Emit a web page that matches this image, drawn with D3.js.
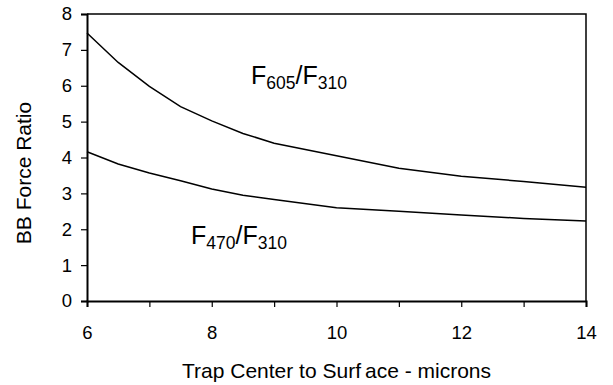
<!DOCTYPE html>
<html>
<head>
<meta charset="utf-8">
<script src="https://cdn.jsdelivr.net/npm/d3@7"></script>
<style>
  body { margin: 0; background: #fff; }
  text { font-family: Arial, "Liberation Sans", sans-serif; fill: #000; }
</style>
</head>
<body>
<div id="chart"></div>
<script>
// distance trap center to surface (microns)
let xs = [6, 6.5, 7, 7.5, 8, 8.5, 9, 10, 11, 12, 13, 14]
// F605/F310 ratio
let ratio605 = [7.47, 6.65, 5.98, 5.42, 5.02, 4.67, 4.40, 4.05, 3.70, 3.48, 3.33, 3.17]
// F470/F310 ratio
let ratio470 = [4.16, 3.82, 3.57, 3.35, 3.12, 2.95, 2.83, 2.60, 2.50, 2.40, 2.30, 2.23]
let xTicks = [6, 7, 8, 9, 10, 11, 12, 13, 14]
let xLabels = [6, 8, 10, 12, 14]
let yTicks = [0, 1, 2, 3, 4, 5, 6, 7, 8]

;(function () {
    let w = 613
    let h = 385
    let left = 87, right = 586, top = 14, bottom = 301

    let svg = d3.select("#chart")
        .append("svg")
        .attr("width", w)
        .attr("height", h)

    let x = d3.scaleLinear().domain([6, 14]).range([left, right])
    let y = d3.scaleLinear().domain([0, 8]).range([bottom, top])

    // plot frame (top and right)
    svg.append("path")
        .attr("d", `M${left},${top}H${right}V${bottom}`)
        .attr("fill", "none")
        .attr("stroke", "#000")
        .attr("stroke-width", 1.5)

    // x axis
    let xAxis = d3.axisBottom(x)
        .tickValues(xTicks)
        .tickSize(6)
        .tickFormat(d => xLabels.includes(d) ? d : "")
    let gx = svg.append("g")
        .attr("transform", "translate(0," + bottom + ")")
        .call(xAxis)
    gx.select(".domain").attr("stroke-width", 2)
    gx.selectAll(".tick line").attr("stroke-width", 1.2)
    gx.selectAll("text")
        .attr("font-size", 18.5)
        .attr("dy", null)
        .attr("y", 38)

    // y axis
    let yAxis = d3.axisLeft(y)
        .tickValues(yTicks)
        .tickSize(6)
        .tickFormat(d3.format("d"))
    let gy = svg.append("g")
        .attr("transform", "translate(" + left + ",0)")
        .call(yAxis)
    gy.select(".domain").attr("stroke-width", 2)
    gy.selectAll(".tick line").attr("stroke-width", 1.2)
    gy.selectAll("text")
        .attr("font-size", 18.5)
        .attr("x", -15)

    let line = series => d3.line()
        .x((d, i) => x(xs[i]))
        .y(d => y(d))(series)

    svg.append("path")
        .attr("d", line(ratio605))
        .attr("fill", "none")
        .attr("stroke", "#000")
        .attr("stroke-width", 1.5)

    svg.append("path")
        .attr("d", line(ratio470))
        .attr("fill", "none")
        .attr("stroke", "#000")
        .attr("stroke-width", 1.5)

    // series labels
    let label = (tx, ty, a, b) => {
        let t = svg.append("text")
            .attr("x", tx)
            .attr("y", ty)
            .attr("font-size", 25)
        t.append("tspan").text("F")
        t.append("tspan").attr("font-size", 17.5).attr("dy", 5).text(a)
        t.append("tspan").attr("dy", -5).text("/F")
        t.append("tspan").attr("font-size", 17.5).attr("dy", 5).text(b)
    }
    label(251, 84, "605", "310")
    label(191, 244, "470", "310")

    // axis titles
    let xt = svg.append("text")
        .attr("x", (left + right) / 2)
        .attr("y", 378)
        .attr("text-anchor", "middle")
        .attr("font-size", 21)
    xt.append("tspan").text("Trap Center to Surf")
    xt.append("tspan").attr("dx", 4).text("ace - microns")

    svg.append("text")
        .attr("transform", "rotate(-90)")
        .attr("x", -173)
        .attr("y", 31)
        .attr("text-anchor", "middle")
        .attr("font-size", 21)
        .text("BB Force Ratio")
})()
</script>
</body>
</html>
